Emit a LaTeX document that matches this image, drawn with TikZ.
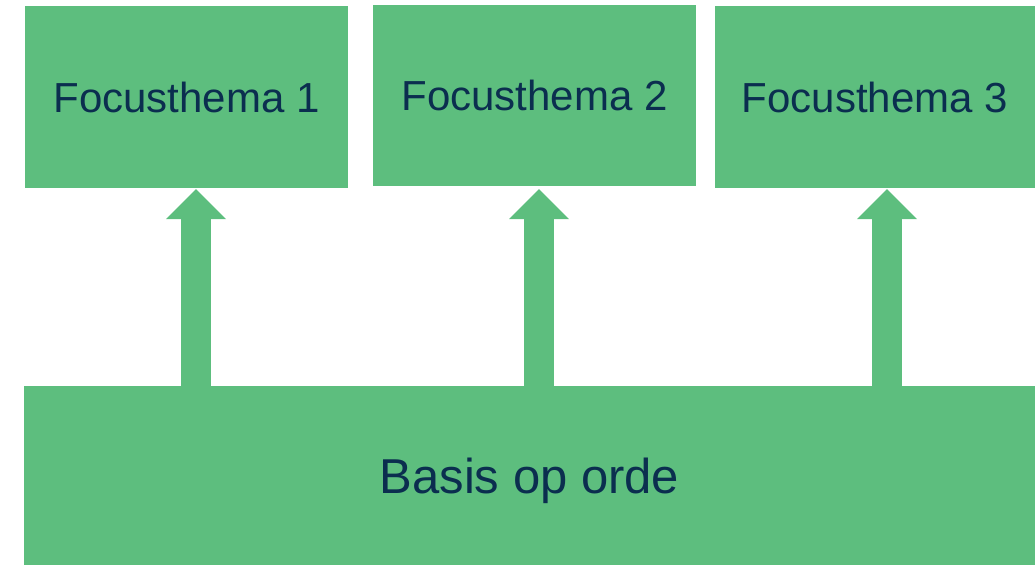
\documentclass[tikz,border=0pt]{standalone}
\usepackage{fontspec}
\setmainfont{Liberation Sans}
\usetikzlibrary{arrows.meta}
\definecolor{boxgreen}{HTML}{5DBE7E}
\definecolor{navy}{HTML}{0B2E4F}
\begin{document}
\begin{tikzpicture}[x=1pt,y=-1pt,
  focusbox/.style={fill=boxgreen, draw=none, inner sep=0pt, text=navy,
    font=\fontsize{42}{48}\selectfont, text height=30pt, text depth=0pt,
    minimum height=182pt},
  basebox/.style={fill=boxgreen, draw=none, inner sep=0pt, text=navy,
    font=\fontsize{49}{56}\selectfont, text height=35pt, text depth=0pt},
  uparrow/.style={draw=boxgreen, line width=30pt,
    -{Triangle[length=30pt, width=60pt, line width=0pt]}, shorten >=1pt}
]
\useasboundingbox (0,0) rectangle (1035,565);
\node[focusbox, minimum width=323pt] (f1) at (186.5,97) {Focusthema 1};
\node[focusbox, minimum width=323pt, minimum height=181pt] (f2) at (534.5,95.5) {Focusthema 2};
\node[focusbox, minimum width=320pt] (f3) at (875,97) {Focusthema 3};
\node[basebox, minimum width=1011pt, minimum height=179pt] (b) at (529.5,475.5) {Basis op orde};
\coordinate (a1) at (196,386);
\coordinate (a2) at (539,386);
\coordinate (a3) at (887,386);
\draw[uparrow] (a1) -- (a1 |- f1.south);
\draw[uparrow] (a2) -- (a2 |- f1.south);
\draw[uparrow] (a3) -- (a3 |- f3.south);
\end{tikzpicture}
\end{document}
